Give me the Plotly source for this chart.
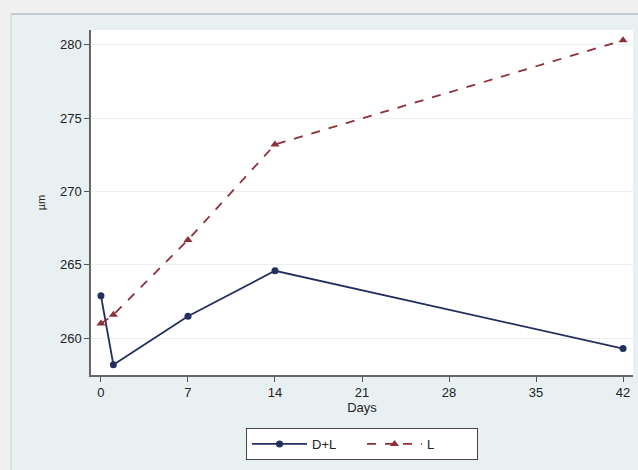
import plotly.graph_objects as go

days_dl = [0, 1, 7, 14, 42]
um_dl = [262.9, 258.2, 261.5, 264.6, 259.3]
days_l = [0, 1, 7, 14, 42]
um_l = [261.0, 261.6, 266.7, 273.2, 280.3]
x_ticks = [0, 7, 14, 21, 28, 35, 42]
y_ticks = [260, 265, 270, 275, 280]

W, H = 638, 470
L, R, T, B = 91, 5, 30, 95
pw, ph = W - L - R, H - T - B

def px(x):
    return (x - L) / pw

def py(y):
    return (H - B - y) / ph

fig = go.Figure()
fig.add_trace(go.Scatter(
    x=days_dl, y=um_dl, name="D+L", mode="lines+markers",
    line=dict(color="#23305f", width=1.8),
    marker=dict(symbol="circle", size=7, color="#23305f"),
))
fig.add_trace(go.Scatter(
    x=days_l, y=um_l, name="L", mode="lines+markers",
    line=dict(color="#8e2f3a", width=1.8, dash="dash"),
    marker=dict(symbol="triangle-up", size=8, color="#8e2f3a"),
))

fig.update_layout(
    width=W, height=H,
    margin=dict(l=L, r=R, t=T, b=B),
    paper_bgcolor="#e8f0f2",
    plot_bgcolor="white",
    font=dict(family="Liberation Sans, Arial, sans-serif", size=13, color="#222222"),
    showlegend=True,
    legend=dict(
        orientation="h", x=0.5, xanchor="center", y=py(428), yanchor="top",
        bordercolor="#444444", borderwidth=1, bgcolor="white",
        font=dict(size=13, color="#222222"), itemwidth=55, entrywidth=45,
    ),
    shapes=[
        dict(type="rect", xref="paper", yref="paper",
             x0=px(-5), x1=px(645), y0=py(14), y1=py(-5),
             fillcolor="#f0f0f0", line=dict(width=0), layer="below"),
        dict(type="rect", xref="paper", yref="paper",
             x0=px(-5), x1=px(11), y0=py(475), y1=py(14),
             fillcolor="#f0f0f0", line=dict(width=0), layer="below"),
        dict(type="line", xref="paper", yref="paper",
             x0=px(11), x1=px(645), y0=py(14), y1=py(14),
             line=dict(color="#b8bfc2", width=1.5)),
        dict(type="line", xref="paper", yref="paper",
             x0=px(11), x1=px(11), y0=py(14), y1=py(475),
             line=dict(color="#c8cfd2", width=1)),
    ],
)
fig.update_xaxes(
    range=[-0.8, 42.8], tickvals=x_ticks, ticks="outside", ticklen=5,
    tickcolor="#555555", showline=True, linecolor="#666666", linewidth=1.5,
    showgrid=False, zeroline=False,
    title=dict(text="Days", standoff=2, font=dict(size=13)),
)
fig.update_yaxes(
    range=[257.5, 281.0], tickvals=y_ticks, ticks="outside", ticklen=5,
    tickcolor="#555555", showline=True, linecolor="#666666", linewidth=1.5,
    showgrid=True, gridcolor="#eaf0f2", gridwidth=1, zeroline=False,
    title=dict(text="µm", standoff=12, font=dict(size=11)),
)

fig.write_html("out.html", config={"displayModeBar": False},
               post_script="document.body.style.margin='0';")
